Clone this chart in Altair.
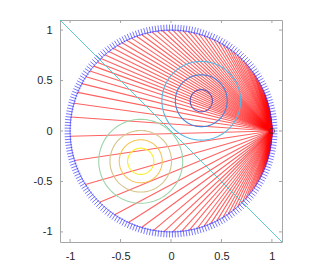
import altair as alt
import pandas as pd
import numpy as np

# ---- data ----
# boundary angles (degrees) where the red chords start; every chord ends at (1, 0)
chord_angles = [0.5, 1, 1.5, 2, 2.5, 3, 3.5, 4, 4.5, 5, 6, 7, 8, 9, 10, 11, 12, 13, 14,
                15, 16, 17, 18, 19, 20, 21, 22, 23, 24, 25.5, 27, 28.5, 30, 31.5, 33,
                34.5, 36, 38, 40, 42, 44, 46.5, 49, 51.5, 54, 56.5, 59, 62, 65, 68, 71,
                74, 77, 80, 83, 86, 89, 92, 95, 98, 101, 104, 107, 110, 113, 116, 119,
                122, 125, 128, 131, 134, 137, 140, 143.5, 147.5, 152, 157.5, 164, 172,
                183, 197, 212, 225, 236, 245, 253, 260, 266, 271, 276, 280.5, 285, 289,
                293, 297, 301, 304.5, 308, 311.5, 315, 318, 320.5, 323, 325.5, 327.5,
                329.5, 331.5, 333, 334.5, 336, 337.5, 339, 340, 341, 342, 343, 344, 345,
                346, 347, 348, 349, 350, 351, 352, 353, 354, 355, 355.5, 356, 356.5,
                357, 357.5, 358, 358.5, 359, 359.5]
chord_end_x = 1.0
chord_end_y = 0.0

# contour rings: centre, radius, colour
contour_cx = [0.30, 0.30, 0.30, -0.30, -0.30, -0.30, -0.30]
contour_cy = [0.30, 0.30, 0.30, -0.30, -0.30, -0.30, -0.30]
contour_r = [0.11, 0.257, 0.39, 0.13, 0.213, 0.305, 0.416]
contour_colors = ["#5a55b5", "#4a82d6", "#5cb6e4", "#f7ee2a", "#f6c453", "#d4c58c", "#9dd4aa"]

n_boundary_ticks = 230
tick_values = [-1, -0.5, 0, 0.5, 1]
diag_x = [-1.1, 1.1]
diag_y = [1.1, -1.1]
marker_x = [1.0]
marker_y = [0.0]

# ---- build tables ----
th = np.deg2rad(np.array(chord_angles))
chords = pd.DataFrame({"x": np.cos(th), "y": np.sin(th),
                       "x2": chord_end_x, "y2": chord_end_y})

rows = []
t = np.deg2rad(np.arange(0, 361, 3))
for i, (cx, cy, r) in enumerate(zip(contour_cx, contour_cy, contour_r)):
    for k, a in enumerate(t):
        rows.append({"g": i, "o": k, "x": cx + r * np.cos(a), "y": cy + r * np.sin(a)})
rings = pd.DataFrame(rows)

tb = np.deg2rad(np.arange(0, 361, 1.0))
boundary = pd.DataFrame({"o": np.arange(len(tb)), "x": np.cos(tb), "y": np.sin(tb)})

tt = np.linspace(0, 2 * np.pi, n_boundary_ticks, endpoint=False)
bticks = pd.DataFrame({"x": 0.99 * np.cos(tt), "y": 0.99 * np.sin(tt),
                       "x2": 1.055 * np.cos(tt), "y2": 1.055 * np.sin(tt)})

diag = pd.DataFrame({"x": diag_x, "y": diag_y})
marker = pd.DataFrame({"x": marker_x, "y": marker_y})
ticks_df = pd.DataFrame({"v": tick_values})

# ---- encodings ----
sc = alt.Scale(domain=[-1.1, 1.1], nice=False, zero=False)
label_expr = "datum.value == 0 ? '0' : (datum.value < 0 ? '-' : '') + format(abs(datum.value), '')"
ax = dict(values=tick_values, ticks=False, tickSize=0, domain=False, grid=False,
          labelExpr=label_expr, labelFont="Liberation Sans", labelFontSize=11,
          labelColor="#262626", labelPadding=8, labelFlush=False, labelOverlap=False,
          title=None)


def X(f):
    return alt.X(f, type="quantitative", scale=sc, axis=alt.Axis(**ax))


def Y(f):
    return alt.Y(f, type="quantitative", scale=sc, axis=alt.Axis(**ax))


W = 222
H = 222
frame_col = "#a6a6a6"

red = alt.Chart(chords).mark_rule(color="#ff0000", strokeWidth=1.1, opacity=0.62).encode(
    x=X("x"), y=Y("y"), x2="x2:Q", y2="y2:Q")

bt = alt.Chart(bticks).mark_rule(color="#3030ff", strokeWidth=1, opacity=0.65).encode(
    x=X("x"), y=Y("y"), x2="x2:Q", y2="y2:Q")

bcircle = alt.Chart(boundary).mark_line(color="#3030ff", strokeWidth=0.8, opacity=0.8).encode(
    x=X("x"), y=Y("y"), order="o:Q")

ring_layer = alt.Chart(rings).mark_line(strokeWidth=1.1).encode(
    x=X("x"), y=Y("y"), order="o:Q",
    color=alt.Color("g:N", scale=alt.Scale(domain=list(range(len(contour_r))),
                                           range=contour_colors), legend=None))

cyan = alt.Chart(diag).mark_line(color="#45c8c8", strokeWidth=0.9, clip=True).encode(
    x=X("x"), y=Y("y"))

mk = alt.Chart(marker).mark_point(shape="circle", filled=False, size=28,
                                  color="#333333", strokeWidth=1).encode(x=X("x"), y=Y("y"))

tb_bottom = alt.Chart(ticks_df).mark_rule(color=frame_col).encode(
    x=X("v"), y=alt.value(H), y2=alt.value(H - 3))
tb_top = alt.Chart(ticks_df).mark_rule(color=frame_col).encode(
    x=X("v"), y=alt.value(0), y2=alt.value(3))
tb_left = alt.Chart(ticks_df).mark_rule(color=frame_col).encode(
    y=Y("v"), x=alt.value(0), x2=alt.value(3))
tb_right = alt.Chart(ticks_df).mark_rule(color=frame_col).encode(
    y=Y("v"), x=alt.value(W), x2=alt.value(W - 3))

chart = alt.layer(red, bt, bcircle, ring_layer, cyan, mk,
                  tb_bottom, tb_top, tb_left, tb_right).properties(
    width=W, height=H,
    autosize=alt.AutoSizeParams(type="none"),
    padding={"left": 52, "top": 12, "right": 10, "bottom": 20},
    background="white",
).configure_view(stroke=frame_col, strokeWidth=1)

chart.save("out.html", embed_options={"renderer": "svg", "actions": False})
